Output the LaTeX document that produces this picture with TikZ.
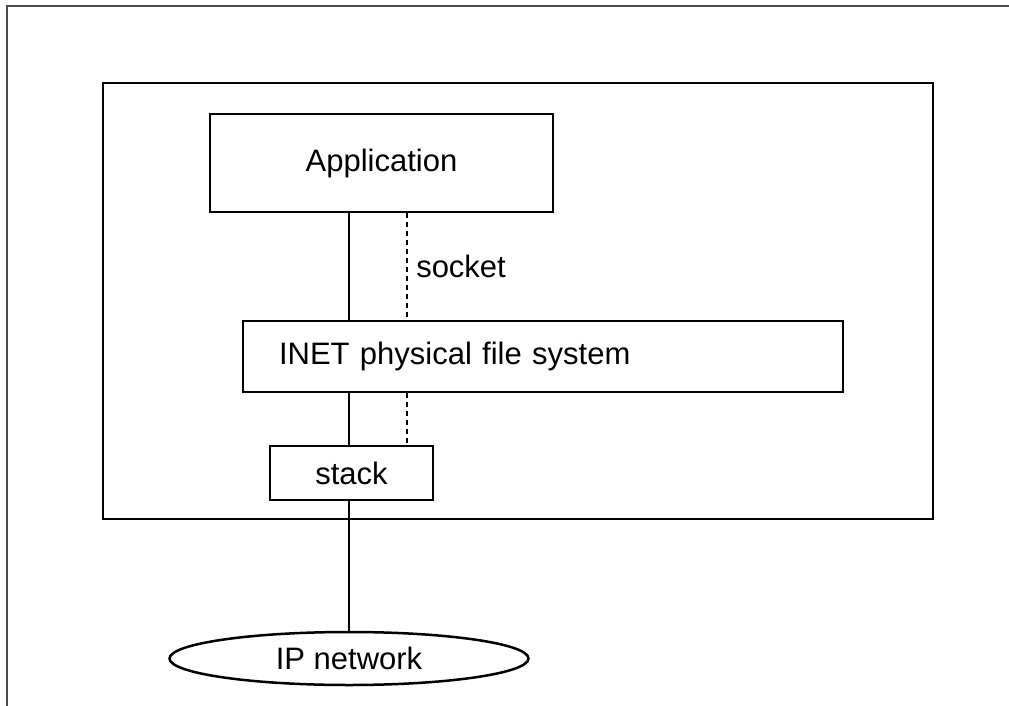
\documentclass[tikz,border=0pt]{standalone}
\usepackage{fontspec}
\setmainfont{Liberation Sans}
\usetikzlibrary{shapes}

\begin{document}
\begin{tikzpicture}[x=1pt,y=-1pt,line width=2.5pt,
        font=\fontsize{31}{37}\selectfont,
        box/.style={rectangle,draw,inner sep=0pt},
        sock/.style={dash pattern=on 4.5pt off 4.5pt}]

  \useasboundingbox (0,0) rectangle (1009,706);
  \draw[line width=1.6pt,black!70] (7,706) -- (7,6) -- (1009,6);

  \node[box,minimum width=830,minimum height=436] (host) at (518,301) {};
  \node[box,minimum width=343,minimum height=98] (app) at (381.5,163) {Application};
  \node[box,text width=528,inner xsep=36pt,minimum height=71,align=left] (pfs) at (543,356.5) {INET physical file system};
  \node[box,minimum width=163,minimum height=54] (stack) at (351.5,473) {stack};
  \node[ellipse,draw,inner sep=0pt,minimum width=359,minimum height=53] (net) at (349,658.5) {IP network};
  \coordinate (sk) at (407,0);

  \path (app.south -| net) edge (pfs.north -| net)
        (pfs.south -| net) edge (stack.north -| net)
        (stack.south -| net) edge (net)
        (app.south -| sk) edge[sock] node[right,inner sep=8pt] {socket} (pfs.north -| sk)
        (pfs.south -| sk) edge[sock] (stack.north -| sk);

\end{tikzpicture}
\end{document}
